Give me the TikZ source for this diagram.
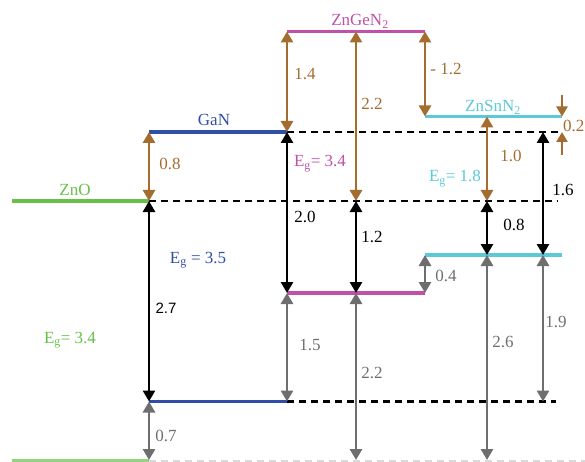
\documentclass[tikz,border=0pt]{standalone}
\usepackage{fontspec}
\setmainfont{Liberation Serif}
\newfontfamily\arialfont{Liberation Sans}
\usetikzlibrary{arrows.meta}
\definecolor{cbrown}{RGB}{165,108,48}
\definecolor{cmag}{RGB}{192,80,168}
\definecolor{ccyan}{RGB}{92,200,216}
\definecolor{cblue}{RGB}{48,78,168}
\definecolor{cgreen}{RGB}{104,192,72}
\definecolor{cgrey}{RGB}{110,110,110}
\tikzset{
  lvl/.style={line width=3.3pt},
  dsh/.style={line width=2.7pt, dash pattern=on 7pt off 5pt},
  dbl/.style={line width=2.8pt, {Triangle[width=12pt,length=11pt]}-{Triangle[width=12pt,length=11pt]}},
  sgl/.style={line width=2.4pt, -{Triangle[width=11pt,length=10pt]}},
  lbl/.style={inner sep=0pt, anchor=base, font=\fontsize{17}{20}\selectfont},
}
\begin{document}
\begin{tikzpicture}[x=1pt,y=-1pt]
\useasboundingbox (0,0) rectangle (585,462);
% columns
\coordinate (xL) at (12,0);
\coordinate (xA) at (149,0);
\coordinate (xB) at (287,0);
\coordinate (xC) at (356,0);
\coordinate (xD) at (425,0);
\coordinate (xE) at (487,0);
\coordinate (xF) at (543,0);
\coordinate (xG) at (562,0);
\coordinate (xH) at (558,0);
\coordinate (xR) at (585,0);
% levels
\coordinate (yGeC) at (0,31.5);
\coordinate (ySnC) at (0,116.5);
\coordinate (yGaC) at (0,132);
\coordinate (yZoC) at (0,201);
\coordinate (ySnV) at (0,255);
\coordinate (yGeV) at (0,293);
\coordinate (yGaV) at (0,401.5);
\coordinate (yZoV) at (0,461);
\coordinate (yBot) at (0,460);
\coordinate (yS1) at (0,95);
\coordinate (yS2) at (0,155);

% dashed reference lines
\draw[dsh] (xA |- yZoC) -- (xH |- yZoC);
\draw[dsh] (xB |- yGaC) -- (xH |- yGaC);
\draw[dsh] (xB |- yGaV) -- (556,401.5);
\draw[line width=1.5pt, black!15, dash pattern=on 7pt off 5pt] (xA |- yZoV) -- (xR |- yZoV);

% band levels
\draw[lvl, cgreen] (xL |- yZoC) -- (xA |- yZoC);
\draw[lvl, cgreen!70] (xL |- yZoV) -- (xA |- yZoV);
\draw[lvl, cblue] (xA |- yGaC) -- (xB |- yGaC);
\draw[lvl, cblue] (xA |- yGaV) -- (xB |- yGaV);
\draw[lvl, cmag] (xB |- yGeC) -- (xD |- yGeC);
\draw[lvl, cmag] (xB |- yGeV) -- (xD |- yGeV);
\draw[lvl, ccyan] (xD |- ySnC) -- (xG |- ySnC);
\draw[lvl, ccyan] (xD |- ySnV) -- (xG |- ySnV);

% brown (conduction band offsets)
\draw[dbl, cbrown] (xA |- yGaC) -- (xA |- yZoC);
\draw[dbl, cbrown] (xB |- yGeC) -- (xB |- yGaC);
\draw[dbl, cbrown] (xC |- yGeC) -- (xC |- yZoC);
\draw[dbl, cbrown] (xD |- yGeC) -- (xD |- ySnC);
\draw[dbl, cbrown] (xE |- ySnC) -- (xE |- yZoC);
\draw[sgl, cbrown] (xG |- yS1) -- (xG |- ySnC);
\draw[sgl, cbrown] (xG |- yS2) -- (xG |- yGaC);

% black (gaps)
\draw[dbl, black] (xA |- yZoC) -- (xA |- yGaV);
\draw[dbl, black] (xB |- yGaC) -- (xB |- yGeV);
\draw[dbl, black] (xC |- yZoC) -- (xC |- yGeV);
\draw[dbl, black] (xE |- yZoC) -- (xE |- ySnV);
\draw[dbl, black] (xF |- yGaC) -- (xF |- ySnV);

% grey (valence band offsets)
\draw[dbl, cgrey] (xA |- yGaV) -- (xA |- yBot);
\draw[dbl, cgrey] (xB |- yGeV) -- (xB |- yGaV);
\draw[dbl, cgrey] (xC |- yGeV) -- (xC |- yBot);
\draw[dbl, cgrey] (xD |- ySnV) -- (xD |- yGeV);
\draw[dbl, cgrey] (xE |- ySnV) -- (xE |- yBot);
\draw[dbl, cgrey] (xF |- ySnV) -- (xF |- yGaV);

% labels
\node[lbl, cmag] (tGe) at (360,26) {ZnGeN\textsubscript{2}};
\node[lbl, ccyan] (tSn) at (493,112) {ZnSnN\textsubscript{2}};
\node[lbl, cblue] (tGa) at (214,126) {GaN};
\node[lbl, cgreen] (tZo) at (75,196) {ZnO};

\node[lbl, cbrown] (b1) at (170,170) {0.8};
\node[lbl, cbrown] (b2) at (305,80) {1.4};
\node[lbl, cbrown] (b3) at (372,110) {2.2};
\node[lbl, cbrown] (b4) at (446,75) {- 1.2};
\node[lbl, cbrown] (b5) at (511,162) {1.0};
\node[lbl, cbrown, anchor=base west] (b6) at (563,132) {0.2};

\node[lbl, cmag] (eGe) at (320,167) {E\textsubscript{g}= 3.4};
\node[lbl, ccyan] (eSn) at (455,182) {E\textsubscript{g}= 1.8};
\node[lbl, cblue] (eGa) at (198,263) {E\textsubscript{g} = 3.5};
\node[lbl, cgreen] (eZo) at (70,343) {E\textsubscript{g}= 3.4};

\node[lbl] (k1) at (305,222) {2.0};
\node[lbl] (k2) at (372,242) {1.2};
\node[lbl] (k3) at (563,196) {1.6};
\node[lbl] (k4) at (514,230) {0.8};
\node[lbl, font=\arialfont\fontsize{15}{18}\selectfont] (k5) at (166,313) {2.7};

\node[lbl, cgrey] (g1) at (166,441) {0.7};
\node[lbl, cgrey] (g2) at (310,350) {1.5};
\node[lbl, cgrey] (g3) at (372,378) {2.2};
\node[lbl, cgrey] (g4) at (446,281) {0.4};
\node[lbl, cgrey] (g5) at (503,347) {2.6};
\node[lbl, cgrey] (g6) at (556,327) {1.9};
\end{tikzpicture}
\end{document}
